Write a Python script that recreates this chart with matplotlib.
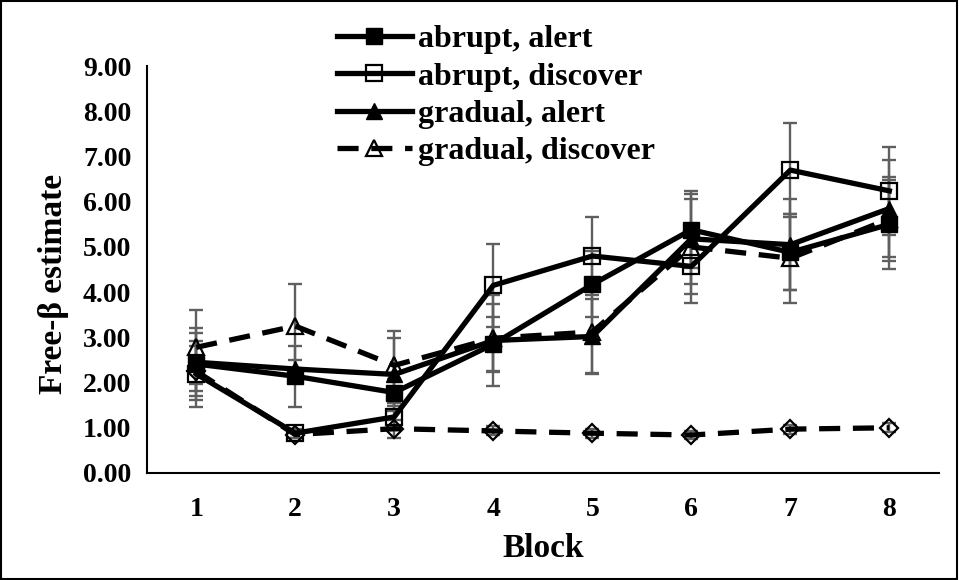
import numpy as np
import matplotlib
matplotlib.use('Agg')
import matplotlib.pyplot as plt
from matplotlib.patches import Rectangle

plt.rcParams['font.family'] = ['Liberation Serif', 'DejaVu Serif']
plt.rcParams['font.weight'] = 'bold'

blocks = [1, 2, 3, 4, 5, 6, 7, 8]

# means and error bar half-widths
abrupt_alert = [2.41, 2.14, 1.78, 2.85, 4.17, 5.38, 4.88, 5.50]
abrupt_alert_err = [0.79, 0.68, 0.30, 0.60, 0.73, 0.85, 0.84, 0.98]
abrupt_discover = [2.19, 0.88, 1.24, 4.15, 4.80, 4.57, 6.70, 6.24]
abrupt_discover_err = [0.72, 0.10, 0.30, 0.91, 0.86, 0.80, 1.04, 0.98]
gradual_alert = [2.45, 2.30, 2.18, 2.93, 3.02, 5.18, 5.05, 5.85]
gradual_alert_err = [0.64, 0.20, 0.80, 1.00, 0.82, 1.00, 1.00, 1.08]
gradual_discover = [2.78, 3.25, 2.38, 2.98, 3.12, 5.00, 4.75, 5.62]
gradual_discover_err = [0.82, 0.92, 0.77, 0.75, 0.90, 1.05, 0.98, 0.92]
# unlabelled dashed series near 1.0
baseline = [2.25, 0.85, 0.98, 0.93, 0.88, 0.84, 0.97, 1.00]
baseline_err = [0.55, 0.08, 0.20, 0.10, 0.10, 0.08, 0.10, 0.10]

yticks = [0, 1, 2, 3, 4, 5, 6, 7, 8, 9]

fig = plt.figure(figsize=(9.59, 5.80), dpi=100)
ax = fig.add_axes([0.153, 0.1845, 0.826, 0.7015])

lw = 3.8
dash = (4.0, 2.4)
err_kw = dict(fmt='none', ecolor='#5f5f5f', elinewidth=1.7, capsize=5, capthick=1.7, zorder=1)

series = [
    (baseline, baseline_err, dict(marker='D', ms=9, mfc='none', mec='black', mew=1.6, ls=(0, dash)), None),
    (gradual_discover, gradual_discover_err, dict(marker='^', ms=11.5, mfc='none', mec='black', mew=1.6, ls=(0, dash)), 'gradual, discover'),
    (gradual_alert, gradual_alert_err, dict(marker='^', ms=11.5, mfc='black', mec='black', ls='-'), 'gradual, alert'),
    (abrupt_discover, abrupt_discover_err, dict(marker='s', ms=11, mfc='none', mec='black', mew=1.6, ls='-'), 'abrupt, discover'),
    (abrupt_alert, abrupt_alert_err, dict(marker='s', ms=11, mfc='black', mec='black', ls='-'), 'abrupt, alert'),
]

handles = {}
for vals, errs, style, label in series:
    ax.errorbar(blocks, vals, yerr=errs, **err_kw)
    line, = ax.plot(blocks, vals, color='black', lw=lw, zorder=3, **style)
    if label:
        handles[label] = line

ax.set_xlim(0.5, 8.5)
ax.set_ylim(0, 9)
ax.set_xticks(blocks)
ax.set_yticks(yticks)
ax.set_yticklabels([f'{v:.2f}' for v in yticks])
ax.tick_params(axis='both', length=0, labelsize=20)
ax.tick_params(axis='y', pad=11)
ax.tick_params(axis='x', pad=17)
for s in ['top', 'right']:
    ax.spines[s].set_visible(False)
for s in ['left', 'bottom']:
    ax.spines[s].set_linewidth(1.5)

ax.set_xlabel('Block', fontsize=24, fontweight='bold', labelpad=8)
ax.set_ylabel('Free-β estimate', fontsize=24, fontweight='bold')
ax.yaxis.set_label_coords(-0.098, 0.465)

order = ['abrupt, alert', 'abrupt, discover', 'gradual, alert', 'gradual, discover']
leg = fig.legend([handles[k] for k in order], order, loc='upper left',
                 bbox_to_anchor=(0.331, 0.99), frameon=False, fontsize=23,
                 handlelength=2.35, handletextpad=0.2, labelspacing=0.25,
                 borderaxespad=0.2)

fig.patches.append(Rectangle((0.001, 0.002), 0.997, 0.996, transform=fig.transFigure,
                             fill=False, edgecolor='black', lw=1.5))

fig.savefig('out.png', dpi=100)
